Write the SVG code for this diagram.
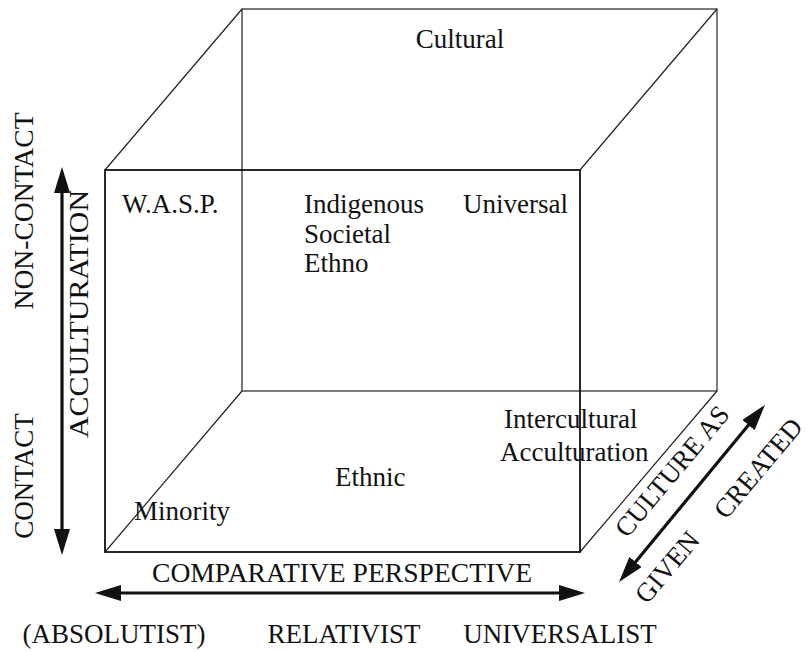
<svg xmlns="http://www.w3.org/2000/svg" width="808" height="652" viewBox="0 0 808 652" font-family="'Liberation Serif', 'Times New Roman', Times, serif">
<style>
text{font-family:'Liberation Serif','Times New Roman',Times,serif;font-size:27px;fill:#111}
.front{fill:none;stroke:#111;stroke-width:1.8}
.back{fill:none;stroke:#222;stroke-width:1.2}
.arrow{stroke:#111;stroke-width:3.2;fill:none}
</style>
<defs>
<marker id="ah" markerUnits="userSpaceOnUse" markerWidth="26" markerHeight="16" viewBox="0 0 26 16" refX="16" refY="8" orient="auto-start-reverse">
<path d="M0,0 L26,8 L0,16 Z" fill="#111"/>
</marker>
</defs>
<g id="cube">
<rect class="back" x="242" y="9" width="475" height="382"/>
<line class="back" x1="105" y1="170" x2="242" y2="9"/>
<line class="back" x1="580" y1="170" x2="717" y2="9"/>
<line class="back" x1="580" y1="552" x2="717" y2="391"/>
<line class="back" x1="105" y1="552" x2="242" y2="391"/>
<rect class="front" x="105" y="170" width="475" height="382"/>
</g>
<g id="connectors">
<line class="arrow" x1="105" y1="593" x2="575" y2="593" marker-start="url(#ah)" marker-end="url(#ah)"/>
<line class="arrow" x1="62" y1="177" x2="62" y2="545" marker-start="url(#ah)" marker-end="url(#ah)"/>
<line class="arrow" x1="625.4" y1="574.3" x2="758.6" y2="412.7" marker-start="url(#ah)" marker-end="url(#ah)"/>
</g>
<g id="cultural"><text x="460" y="48" text-anchor="middle">Cultural</text></g>
<g id="wasp"><text x="122" y="213">W.A.S.P.</text></g>
<g id="indigenous"><text x="304" y="213">Indigenous</text><text x="304" y="243">Societal</text><text x="304" y="272">Ethno</text></g>
<g id="universal"><text x="463" y="213">Universal</text></g>
<g id="intercultural"><text x="504" y="428">Intercultural</text><text x="500" y="461">Acculturation</text></g>
<g id="ethnic"><text x="335" y="486">Ethnic</text></g>
<g id="minority"><text x="134" y="520">Minority</text></g>
<g id="axis-labels">
<text x="342" y="582" text-anchor="middle" textLength="380" lengthAdjust="spacingAndGlyphs">COMPARATIVE PERSPECTIVE</text>
<text x="114" y="643" text-anchor="middle">(ABSOLUTIST)</text>
<text x="344" y="643" text-anchor="middle">RELATIVIST</text>
<text x="560" y="643" text-anchor="middle">UNIVERSALIST</text>
<text transform="translate(33,211) rotate(-90)" text-anchor="middle" textLength="197" lengthAdjust="spacingAndGlyphs">NON-CONTACT</text>
<text transform="translate(33,476) rotate(-90)" text-anchor="middle">CONTACT</text>
<text transform="translate(88,314) rotate(-90)" text-anchor="middle" textLength="248" lengthAdjust="spacingAndGlyphs">ACCULTURATION</text>
<text transform="translate(679,477) rotate(-50)" text-anchor="middle">CULTURE AS</text>
<text transform="translate(765,474) rotate(-50)" text-anchor="middle">CREATED</text>
<text transform="translate(674,573) rotate(-50)" text-anchor="middle">GIVEN</text>
</g>
</svg>
